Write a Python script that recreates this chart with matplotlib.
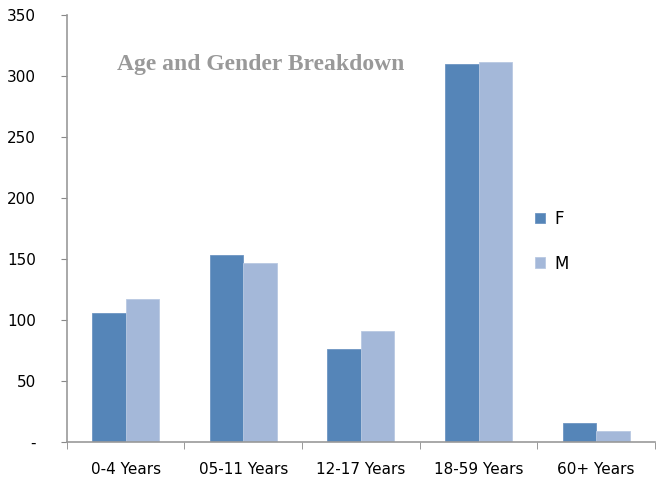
import numpy as np
import matplotlib
matplotlib.use("Agg")
import matplotlib.pyplot as plt

categories = ["0-4 Years", "05-11 Years", "12-17 Years", "18-59 Years", "60+ Years"]
female = [106, 153, 76, 310, 16]
male = [117, 147, 91, 311, 9]
yticks = [0, 50, 100, 150, 200, 250, 300, 350]
ytick_labels = ["-", "50", "100", "150", "200", "250", "300", "350"]

fig = plt.figure(figsize=(6.61, 4.79), dpi=100)
ax = fig.add_axes([0.101, 0.077, 0.89, 0.892])

x = np.arange(len(categories))
w = 0.285
ax.bar(x - w / 2, female, w, color="#5585B8", edgecolor="#6E95C2", linewidth=0.6, label="F")
ax.bar(x + w / 2, male, w, color="#A4B8D9", edgecolor="#B8C8E2", linewidth=0.6, label="M")

ax.set_xlim(-0.5, len(categories) - 0.5)
ax.set_ylim(0, 350)
ax.set_yticks(yticks)
ax.set_yticklabels(ytick_labels, fontsize=11)
ax.set_xticks(x)
ax.set_xticklabels(categories, fontsize=11)
ax.set_xticks(np.arange(len(categories) + 1) - 0.5, minor=True)
ax.tick_params(axis="x", which="major", length=0, pad=14)
ax.tick_params(axis="x", which="minor", length=5, color="#888888", direction="out")
ax.tick_params(axis="y", length=4, color="#888888", pad=18)

for s in ["top", "right"]:
    ax.spines[s].set_visible(False)
for s in ["left", "bottom"]:
    ax.spines[s].set_color("#999999")
    ax.spines[s].set_linewidth(1.2)

ax.text(0.085, 0.872, "Age and Gender Breakdown", transform=ax.transAxes,
        fontsize=17, fontweight="bold", color="#999999", family="Liberation Serif")

leg = ax.legend(loc="center left", bbox_to_anchor=(0.77, 0.47), frameon=False,
                fontsize=12, handlelength=0.6, handleheight=0.6,
                labelspacing=1.6, handletextpad=0.6)

fig.savefig("out.png", dpi=100)
